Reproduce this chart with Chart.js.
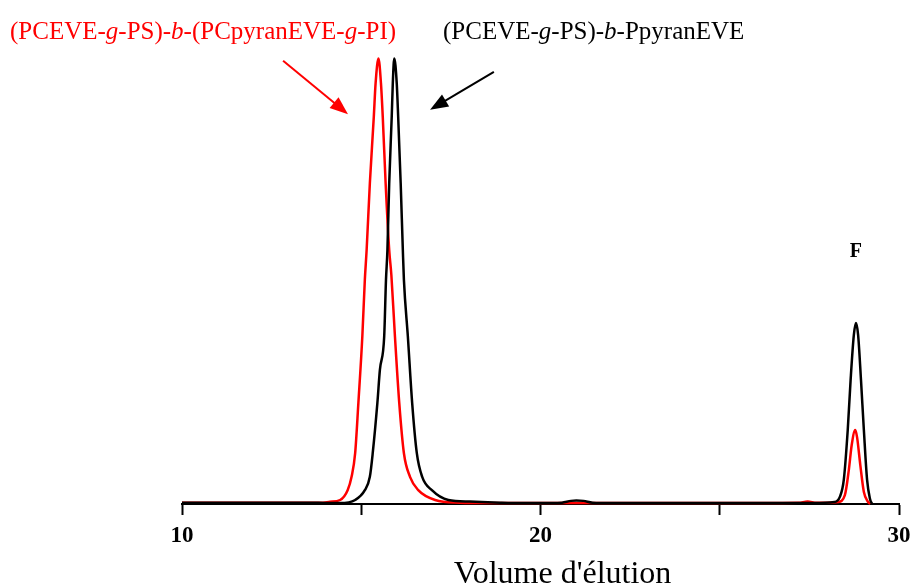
<!DOCTYPE html>
<html>
<head>
<meta charset="utf-8">
<script src="https://cdn.jsdelivr.net/npm/chart.js@4.4.1/dist/chart.umd.min.js"></script>
<style>
  html, body { margin: 0; padding: 0; background: #fff; }
  #wrap { width: 911px; height: 585px; position: relative; }
</style>
</head>
<body>
<div id="wrap"><canvas id="sec"></canvas></div>
<script>
// elution volume (mL) and detector signal (% of highest peak)
const volRed = [10, 11, 12, 13, 13.85, 14.13, 14.41, 14.62, 14.73, 14.83, 14.92, 15.03, 15.10, 15.15, 15.24,
  15.35, 15.40, 15.48, 15.55, 15.60, 15.68, 15.78, 15.84, 15.94, 16.06, 16.19, 16.36, 16.59, 17.06,
  17.75, 18.5, 20, 22, 24, 26, 27.2, 27.45, 27.7, 28.0, 28.3, 28.49, 28.6, 28.68, 28.78,
  28.83, 28.92, 29.02, 29.14, 29.2];
const sigRed = [0.3, 0.3, 0.3, 0.3, 0.3, 0.5, 0.9, 3.1, 6.1, 11.4, 22.7, 37.6, 50.3, 57, 72,
  86.9, 94.4, 100, 94.4, 86.9, 72, 57, 51.4, 37.6, 22.7, 11.4, 6.1, 3.1, 0.9,
  0.3, 0.2, 0.2, 0.2, 0.2, 0.25, 0.3, 0.55, 0.3, 0.3, 0.45, 2, 7.6, 13.2, 16.6,
  15, 8.8, 2.7, 0.45, 0];

const volBlack = [10, 11, 12, 13, 13.8, 14.41, 14.83, 15.10, 15.24, 15.32, 15.45, 15.52, 15.64, 15.69,
  15.73, 15.78, 15.85, 15.88, 15.92, 15.99, 16.03, 16.10, 16.16, 16.19, 16.30, 16.42, 16.55, 16.70,
  16.97, 17.43, 18.03, 18.87, 19.5, 20.3, 20.6, 20.85, 21.0, 21.2, 21.45, 22, 23, 24, 25, 26, 27,
  27.6, 28.2, 28.35, 28.46, 28.57, 28.65, 28.74, 28.80, 28.86, 28.94, 29.02, 29.11, 29.19, 29.25];
const sigBlack = [0.3, 0.3, 0.3, 0.3, 0.3, 0.2, 0.9, 3.1, 6.1, 11.4, 22.7, 30.1, 37.6, 50.3,
  57, 72, 86.9, 94.4, 100, 94.4, 86.9, 72, 57, 50.3, 37.6, 22.7, 11.4, 6.1,
  3.1, 0.9, 0.55, 0.3, 0.2, 0.2, 0.3, 0.7, 0.8, 0.7, 0.3, 0.2, 0.2, 0.25, 0.25, 0.2, 0.2,
  0.2, 0.45, 1.6, 5.4, 16.6, 27.8, 37.9, 40.6, 37.9, 27.8, 16.6, 5.4, 1.2, 0];

const xTicks = [10, 15, 20, 25, 30];
const xLabels = ['10', '', '20', '', '30'];

const serif = '"Liberation Serif", "Times New Roman", serif';

function toPoints(xs, ys) {
  return xs.map((x, i) => ({ x: x, y: ys[i] }));
}

// labels, arrows, the "F" mark and the axis title
const notes = {
  id: 'notes',
  afterDatasetsDraw(chart) {
    const ctx = chart.ctx;
    const xs = chart.scales.x, ys = chart.scales.y;
    ctx.save();

    function runs(parts, x, y, color) {
      ctx.fillStyle = color;
      ctx.textBaseline = 'middle';
      ctx.textAlign = 'left';
      parts.forEach(p => {
        ctx.font = (p[1] ? 'italic ' : '') + '25px ' + serif;
        ctx.fillText(p[0], x, y);
        x += ctx.measureText(p[0]).width;
      });
    }
    runs([['(PCEVE-'], ['g', 1], ['-PS)-'], ['b', 1], ['-(PCpyranEVE-'], ['g', 1], ['-PI)']], 10, 32, '#ff0000');
    runs([['(PCEVE-'], ['g', 1], ['-PS)-'], ['b', 1], ['-PpyranEVE']], 443, 32, '#000000');

    function arrow(x0, y0, x1, y1, color) {
      const a = Math.atan2(y1 - y0, x1 - x0);
      const len = 18, w = 7;
      ctx.strokeStyle = color;
      ctx.fillStyle = color;
      ctx.lineWidth = 2;
      ctx.beginPath();
      ctx.moveTo(x0, y0);
      ctx.lineTo(x1 - len * Math.cos(a) * 0.8, y1 - len * Math.sin(a) * 0.8);
      ctx.stroke();
      ctx.beginPath();
      ctx.moveTo(x1, y1);
      ctx.lineTo(x1 - len * Math.cos(a) + w * Math.sin(a), y1 - len * Math.sin(a) - w * Math.cos(a));
      ctx.lineTo(x1 - len * Math.cos(a) - w * Math.sin(a), y1 - len * Math.sin(a) + w * Math.cos(a));
      ctx.closePath();
      ctx.fill();
    }
    arrow(xs.getPixelForValue(12.82), ys.getPixelForValue(99.5), xs.getPixelForValue(14.63), ys.getPixelForValue(87.5), '#ff0000');
    arrow(xs.getPixelForValue(18.70), ys.getPixelForValue(97), xs.getPixelForValue(16.92), ys.getPixelForValue(88.5), '#000000');

    ctx.fillStyle = '#000';
    ctx.font = 'bold 20px ' + serif;
    ctx.textAlign = 'center';
    ctx.textBaseline = 'middle';
    ctx.fillText('F', xs.getPixelForValue(28.8), ys.getPixelForValue(56.5));

    // x axis title sits a little right of the axis centre in the original
    const area = chart.chartArea;
    ctx.font = '32px ' + serif;
    ctx.textBaseline = 'alphabetic';
    ctx.fillText("Volume d'élution", (area.left + area.right) / 2 + 22, 583);
    ctx.restore();
  }
};

new Chart(document.getElementById('sec'), {
  type: 'line',
  data: {
    datasets: [
      {
        label: '(PCEVE-g-PS)-b-PpyranEVE',
        data: toPoints(volBlack, sigBlack),
        borderColor: '#000000',
        borderWidth: 2.5
      },
      {
        label: '(PCEVE-g-PS)-b-(PCpyranEVE-g-PI)',
        data: toPoints(volRed, sigRed),
        borderColor: '#ff0000',
        borderWidth: 2.5
      }
    ]
  },
  options: {
    responsive: true,
    maintainAspectRatio: false,
    animation: false,
    clip: false,
    elements: {
      point: { radius: 0 },
      line: { cubicInterpolationMode: 'monotone', fill: false }
    },
    layout: { padding: { left: 182, right: 12, top: 54, bottom: 0 } },
    plugins: {
      legend: { display: false },
      tooltip: { enabled: false }
    },
    scales: {
      x: {
        type: 'linear',
        min: 10,
        max: 30,
        afterBuildTicks: axis => { axis.ticks = xTicks.map(v => ({ value: v })); },
        afterFit: axis => { axis.height = 81; axis.paddingRight = 0; },
        ticks: {
          autoSkip: false,
          maxRotation: 0,
          padding: 7,
          color: '#000',
          font: { family: serif, size: 23, weight: 'bold' },
          callback: v => xLabels[xTicks.indexOf(v)]
        },
        grid: {
          drawOnChartArea: false,
          drawTicks: true,
          tickLength: 11,
          tickWidth: 2,
          tickColor: '#000'
        },
        border: { color: '#000', width: 2 },
        title: { display: false }
      },
      y: {
        display: false,
        min: 0,
        max: 101
      }
    }
  },
  plugins: [notes]
});
</script>
</body>
</html>
